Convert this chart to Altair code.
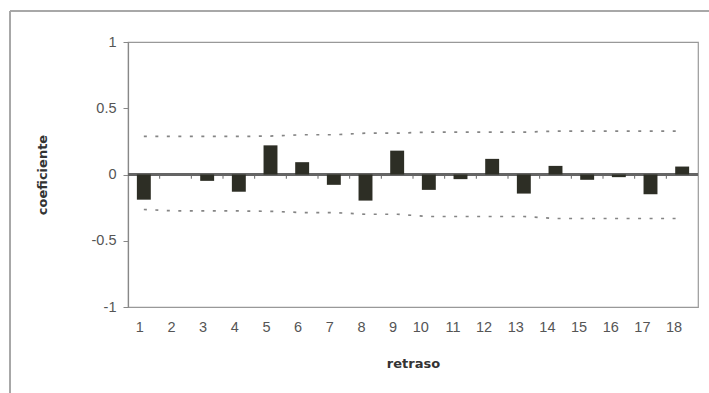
import altair as alt
import pandas as pd

# Autocorrelation coefficients by lag, with the confidence limits
lags = list(range(1, 19))
coef = [-0.19, 0.0, -0.048, -0.13, 0.22, 0.093, -0.078, -0.197, 0.18,
        -0.116, -0.035, 0.118, -0.144, 0.065, -0.04, -0.02, -0.149, 0.06]
upper = [0.287, 0.287, 0.287, 0.287, 0.29, 0.30, 0.30, 0.312, 0.312,
         0.32, 0.32, 0.32, 0.32, 0.327, 0.327, 0.327, 0.327, 0.327]
lower = [-0.264, -0.275, -0.275, -0.275, -0.278, -0.287, -0.287, -0.30, -0.30,
         -0.317, -0.317, -0.317, -0.317, -0.332, -0.332, -0.332, -0.332, -0.332]
y_ticks = [-1, -0.5, 0, 0.5, 1]

df = pd.DataFrame({"retraso": lags, "coeficiente": coef,
                   "sup": upper, "inf": lower})

W, H = 570, 265
LEFT, TOP = 128, 42
step = W / len(lags)

x_scale = alt.Scale(paddingInner=0.56, paddingOuter=0.28)
y_scale = alt.Scale(domain=[-1, 1], nice=False)

x_enc = alt.X("retraso:O", scale=x_scale, axis=alt.Axis(
    title="retraso", labelAngle=0, domain=False, ticks=False,
    labelFont="Liberation Sans", labelFontSize=14.5, labelColor="#555555",
    labelPadding=20, titleFont="DejaVu Sans", titleFontSize=13,
    titleFontWeight="bold", titleColor="#333333", titlePadding=24))

y_axis = alt.Axis(
    title="coeficiente", values=y_ticks, grid=False,
    labelExpr="datum.value == 0 ? '0' : (datum.value < 0 ? '-' + format(-datum.value, '~g') : format(datum.value, '~g'))",
    labelFont="Liberation Sans", labelFontSize=14.5, labelColor="#555555",
    labelPadding=7, tickSize=5, tickColor="#888888", domainColor="#888888",
    domainWidth=1.2, titleFont="DejaVu Sans", titleFontSize=13,
    titleFontWeight="bold", titleColor="#333333", titlePadding=42)

base = alt.Chart(df)

bars = base.mark_bar(color="#2d2e25").encode(
    x=x_enc,
    y=alt.Y("coeficiente:Q", scale=y_scale, axis=y_axis),
)

zero = base.mark_rule(color="#666666", strokeWidth=1.5).encode(
    y=alt.datum(0), x=alt.value(0), x2=alt.value(W))

# small category tick marks hanging below the zero line
ticks = alt.Chart(df[df["retraso"] > 1]).mark_rule(
    color="#666666", strokeWidth=1, xOffset=-step / 2).encode(
    x=alt.X("retraso:O", scale=x_scale),
    y=alt.datum(0), y2=alt.datum(-0.032))

dash = [3, 8.5]
sup_line = base.mark_line(color="#858585", strokeWidth=1.7,
                          strokeDash=dash).encode(
    x=alt.X("retraso:O", scale=x_scale), y=alt.Y("sup:Q", scale=y_scale))
inf_line = base.mark_line(color="#858585", strokeWidth=1.7,
                          strokeDash=dash).encode(
    x=alt.X("retraso:O", scale=x_scale), y=alt.Y("inf:Q", scale=y_scale))

# outer chart-area border (top and left edges)
frame_top = base.mark_rule(color="#a8a8a8", strokeWidth=1.6).encode(
    x=alt.value(10 - LEFT), x2=alt.value(709 - LEFT),
    y=alt.value(11 - TOP))
frame_left = base.mark_rule(color="#a8a8a8", strokeWidth=1.6).encode(
    x=alt.value(10 - LEFT), y=alt.value(11 - TOP), y2=alt.value(393 - TOP))

chart = alt.layer(
    frame_top, frame_left, sup_line, inf_line, zero, ticks, bars
).properties(
    width=W, height=H,
    autosize=alt.AutoSizeParams(type="none"),
    padding={"left": LEFT, "top": TOP, "right": 709 - LEFT - W,
             "bottom": 393 - TOP - H},
    background="white",
).configure_view(stroke="#999999", strokeWidth=1.2)

chart.save("out.html", embed_options={"renderer": "svg", "actions": False})
